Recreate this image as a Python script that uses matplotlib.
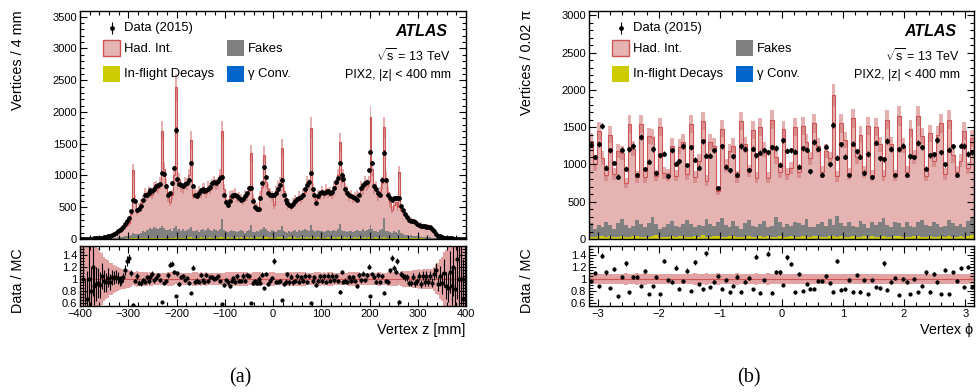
import numpy as np
import matplotlib
matplotlib.use("Agg")
import matplotlib.pyplot as plt
from matplotlib.patches import Rectangle
from matplotlib.ticker import MultipleLocator, FuncFormatter

plt.rcParams['font.family'] = ['Liberation Sans', 'DejaVu Sans']
plt.rcParams['mathtext.fontset'] = 'custom'
plt.rcParams['mathtext.rm'] = 'Liberation Sans'
plt.rcParams['mathtext.it'] = 'Liberation Sans:italic'

# ---------------- Vertex z, 4 mm bins from -400 to 400 mm ----------------
z_range = (-400, 400)
z_nbins = 200
z_data = [
    0, 1, 1, 2, 3, 4, 6, 8, 11, 14,
    18, 23, 29, 36, 45, 55, 68, 82, 100, 120,
    140, 165, 195, 230, 280, 330, 440, 620, 600, 450,
    470, 520, 610, 690, 700, 730, 770, 760, 790, 830,
    850, 860, 1040, 1020, 830, 700, 720, 880, 1115, 1715,
    950, 860, 850, 840, 860, 880, 930, 1200, 830, 690,
    680, 720, 770, 780, 760, 770, 790, 820, 880, 900,
    880, 920, 960, 980, 700, 590, 530, 600, 680, 700,
    690, 680, 640, 620, 630, 680, 720, 800, 810, 600,
    500, 470, 470, 640, 880, 1130, 980, 720, 700, 690,
    700, 720, 780, 850, 930, 700, 620, 560, 530, 520,
    550, 600, 630, 650, 660, 700, 780, 850, 900, 1040,
    780, 700, 560, 680, 720, 740, 730, 740, 760, 720,
    740, 800, 900, 960, 1200, 1000, 950, 780, 720, 700,
    680, 660, 640, 620, 700, 800, 850, 880, 900, 1085,
    1370, 1200, 830, 780, 720, 700, 930, 1360, 930, 700,
    640, 620, 640, 650, 650, 650, 520, 450, 400, 350,
    300, 290, 280, 260, 240, 220, 210, 200, 200, 195,
    190, 185, 160, 120, 80, 55, 40, 28, 22, 16,
    12, 10, 8, 6, 5, 4, 3, 2, 1, 1,
]
z_had_int = [
    1, 1, 2, 2, 2, 4, 3, 7, 8, 11,
    15, 16, 22, 29, 34, 45, 51, 62, 76, 93,
    118, 139, 154, 158, 167, 192, 341, 980, 540, 359,
    418, 458, 497, 606, 536, 625, 565, 544, 624, 653,
    642, 703, 1490, 931, 712, 519, 418, 571, 830, 2185,
    730, 778, 701, 649, 747, 730, 836, 1374, 568, 599,
    557, 648, 585, 639, 676, 580, 648, 654, 727, 749,
    716, 748, 835, 1390, 637, 479, 446, 548, 555, 567,
    589, 536, 538, 495, 467, 600, 556, 618, 1122, 529,
    417, 375, 358, 546, 669, 1144, 750, 656, 608, 545,
    417, 648, 675, 746, 1232, 639, 537, 418, 435, 386,
    458, 485, 487, 539, 516, 584, 588, 755, 737, 1531,
    666, 569, 497, 555, 558, 636, 589, 647, 575, 618,
    567, 675, 738, 846, 1290, 757, 869, 676, 648, 555,
    569, 527, 535, 558, 536, 689, 627, 774, 708, 736,
    1692, 947, 669, 696, 568, 605, 727, 1430, 828, 619,
    448, 360, 419, 471, 402, 910, 393, 354, 325, 271,
    267, 253, 218, 234, 210, 168, 193, 152, 177, 156,
    174, 151, 150, 93, 58, 51, 30, 24, 15, 15,
    11, 7, 7, 4, 5, 3, 3, 2, 1.5, 1,
]
z_fakes = [
    0, 0, 0, 1, 1, 1, 2, 2, 3, 3,
    4, 5, 6, 7, 8, 10, 12, 14, 16, 20,
    22, 25, 30, 35, 40, 45, 50, 90, 70, 60,
    70, 90, 110, 100, 130, 120, 160, 140, 170, 150,
    140, 160, 190, 150, 130, 120, 140, 110, 150, 180,
    120, 140, 100, 130, 110, 120, 140, 160, 110, 100,
    120, 90, 110, 130, 100, 120, 150, 110, 100, 130,
    120, 110, 140, 280, 120, 100, 90, 110, 120, 100,
    110, 90, 100, 120, 110, 80, 100, 120, 200, 90,
    80, 100, 90, 110, 130, 160, 120, 100, 90, 110,
    100, 90, 120, 110, 170, 100, 90, 80, 100, 90,
    100, 110, 90, 120, 100, 110, 130, 120, 100, 190,
    110, 90, 100, 120, 110, 100, 90, 110, 120, 100,
    110, 120, 100, 130, 200, 120, 110, 100, 90, 100,
    110, 90, 100, 120, 100, 110, 130, 100, 120, 140,
    200, 130, 110, 100, 90, 110, 130, 300, 110, 100,
    90, 80, 100, 90, 80, 120, 70, 60, 50, 55,
    40, 45, 40, 35, 30, 32, 28, 30, 25, 22,
    20, 18, 15, 12, 8, 6, 5, 4, 3, 2,
    2, 1, 1, 1, 1, 0, 0, 0, 0, 0,
]
z_decays = [
    0, 0, 0, 0, 0, 0, 0, 0, 1, 1,
    1, 1, 2, 2, 2, 3, 3, 4, 4, 5,
    5, 6, 6, 7, 8, 8, 9, 10, 10, 11,
    12, 12, 13, 14, 14, 15, 15, 16, 16, 17,
    18, 17, 20, 19, 18, 21, 22, 19, 20, 25,
    20, 22, 19, 21, 23, 20, 24, 26, 22, 21,
    23, 22, 25, 21, 24, 20, 22, 26, 23, 21,
    24, 22, 25, 30, 23, 21, 24, 22, 25, 23,
    21, 24, 22, 25, 23, 20, 24, 22, 28, 21,
    23, 25, 22, 24, 21, 26, 30, 24, 22, 25,
    23, 22, 25, 24, 28, 21, 23, 22, 25, 24,
    22, 25, 23, 21, 24, 26, 22, 25, 23, 29,
    24, 21, 23, 25, 22, 24, 21, 23, 25, 22,
    23, 25, 22, 24, 30, 23, 21, 24, 22, 25,
    21, 23, 25, 22, 24, 21, 23, 26, 22, 24,
    28, 23, 21, 24, 22, 25, 23, 30, 22, 21,
    22, 20, 21, 19, 18, 20, 17, 16, 15, 14,
    13, 12, 12, 11, 10, 10, 9, 8, 8, 7,
    6, 6, 5, 5, 4, 3, 3, 2, 2, 1,
    1, 1, 1, 0, 0, 0, 0, 0, 0, 0,
]
z_syst = 0.08

# ---------------- Vertex phi, 0.02*pi bins ----------------
phi_range = (-np.pi, np.pi)
phi_nbins = 100
phi_data = [
    1267, 1100, 1276, 1515, 955, 1190, 1018, 838, 1196, 945,
    1201, 1246, 855, 1371, 938, 1035, 1206, 884, 1125, 1144,
    851, 1188, 1012, 1042, 1248, 992, 1232, 1062, 956, 1311,
    1115, 1118, 1188, 683, 1243, 970, 920, 1113, 863, 1248,
    1207, 928, 1212, 1123, 1155, 1188, 1164, 1232, 1221, 999,
    1323, 1183, 1188, 1170, 972, 1216, 1196, 907, 1302, 1213,
    864, 1239, 1004, 1525, 1092, 1271, 1104, 861, 1280, 1177,
    1106, 891, 1140, 833, 1290, 1080, 1071, 1312, 1207, 859,
    1205, 1250, 855, 1110, 1100, 1287, 1228, 944, 1122, 1134,
    1330, 1163, 1001, 1200, 1243, 864, 1250, 1247, 1140, 1161,
]
phi_had_int = [
    1100, 865, 1260, 935, 630, 1215, 732, 968, 882, 560,
    1394, 1035, 578, 1340, 672, 1167, 1080, 645, 1360, 725,
    658, 1012, 681, 1085, 1098, 610, 1333, 664, 867, 1412,
    510, 1104, 1075, 420, 1199, 802, 1016, 1005, 650, 1443,
    1057, 652, 1290, 661, 1294, 958, 659, 1422, 810, 675,
    1303, 667, 782, 1269, 691, 1326, 1030, 914, 1395, 1043,
    678, 1002, 810, 1736, 530, 1334, 1151, 637, 1444, 939,
    1163, 705, 1370, 628, 1317, 1042, 562, 1409, 1111, 624,
    1440, 1083, 667, 1300, 945, 1425, 1121, 658, 1242, 820,
    1204, 1386, 689, 1341, 912, 727, 854, 1290, 706, 1068,
]
phi_fakes = [
    190, 110, 150, 120, 200, 140, 110, 180, 230, 160,
    120, 140, 210, 170, 130, 180, 250, 150, 110, 130,
    170, 200, 140, 120, 160, 230, 180, 130, 150, 120,
    240, 170, 140, 190, 250, 160, 130, 200, 150, 110,
    180, 220, 140, 130, 170, 210, 120, 150, 260, 190,
    140, 170, 130, 200, 180, 150, 240, 140, 120, 170,
    190, 150, 230, 160, 280, 170, 150, 200, 140, 130,
    210, 160, 120, 180, 150, 200, 250, 160, 130, 190,
    170, 140, 200, 150, 120, 180, 230, 160, 140, 200,
    170, 130, 150, 220, 180, 140, 160, 130, 200, 230,
]
phi_decays = [
    30, 25, 40, 35, 30, 45, 28, 32, 38, 30,
    26, 35, 42, 30, 28, 33, 40, 55, 30, 25,
    32, 38, 29, 35, 42, 30, 27, 36, 33, 48,
    30, 26, 35, 40, 31, 28, 34, 45, 30, 27,
    33, 38, 30, 29, 36, 32, 41, 28, 30, 35,
    27, 33, 38, 31, 29, 44, 30, 26, 35, 37,
    32, 28, 40, 34, 30, 46, 29, 33, 36, 31,
    27, 35, 30, 42, 33, 28, 38, 31, 29, 36,
    40, 27, 33, 30, 35, 45, 29, 32, 38, 30,
    26, 34, 31, 39, 28, 33, 36, 30, 44, 52,
]
phi_syst = 0.06

# ---------------- styling ----------------
C_HAD = '#e6b3b3'
C_HAD_LINE = '#cc5555'
C_BAND = '#d07070'
C_RATIO_BAND = '#e3a3a3'
C_FAKES = '#808080'
C_DECAYS = '#cccc00'
C_CONV = '#0066cc'

W, H = 977, 392
fig = plt.figure(figsize=(W / 100, H / 100), dpi=100)


def fbox(x0, y0, x1, y1):
    """Pixel box (left, top, right, bottom) -> figure fraction rect."""
    return [x0 / W, 1 - y1 / H, (x1 - x0) / W, (y1 - y0) / H]


def style_axis(ax, xmaj, xmin, ymaj, ymin):
    ax.xaxis.set_major_locator(MultipleLocator(xmaj))
    ax.xaxis.set_minor_locator(MultipleLocator(xmin))
    ax.yaxis.set_major_locator(MultipleLocator(ymaj))
    ax.yaxis.set_minor_locator(MultipleLocator(ymin))
    ax.tick_params(which='both', direction='in', top=True, right=True,
                   labelsize=8, width=0.8, pad=2)
    ax.tick_params(which='major', length=5)
    ax.tick_params(which='minor', length=2.6)
    for s in ax.spines.values():
        s.set_linewidth(1.0)


def draw_panel(x0, edges, data, had, fakes, decays, syst, xlim, ymax,
               xmaj, xmin, ylabel, xlabel, tag):
    x1 = x0 + 386 if x0 < 500 else 974
    axm = fig.add_axes(fbox(x0, 11, x1, 239))
    axr = fig.add_axes(fbox(x0, 246, x1, 306))

    data = np.asarray(data, float)
    had = np.asarray(had, float)
    fakes = np.asarray(fakes, float)
    decays = np.asarray(decays, float)
    total = had + fakes + decays
    safe = np.where(total > 0, total, 1.0)
    rel_unc = np.sqrt(syst ** 2 + 4.0 / safe)
    centers = 0.5 * (edges[1:] + edges[:-1])
    derr = np.sqrt(data)

    # stacked prediction
    axm.stairs(decays, edges, baseline=0, fill=True, color=C_DECAYS, lw=0)
    axm.stairs(decays + fakes, edges, baseline=decays, fill=True,
               color=C_FAKES, lw=0)
    axm.stairs(total, edges, baseline=decays + fakes, fill=True,
               color=C_HAD, lw=0)
    axm.stairs(total * (1 + rel_unc), edges, baseline=total * (1 - rel_unc),
               fill=True, color=C_BAND, alpha=0.55, lw=0)
    axm.stairs(total, edges, color=C_HAD_LINE, lw=0.8)
    axm.errorbar(centers, data, yerr=derr, fmt='o', color='black',
                 ms=2.4, elinewidth=0.8, capsize=0, zorder=5)
    axm.set_xlim(*xlim)
    axm.set_ylim(0, ymax)
    style_axis(axm, xmaj, xmin, 500, 100)
    axm.tick_params(labelbottom=False)

    # ratio
    ratio = np.where(total > 0, data / safe, 0)
    rerr = derr / safe
    axr.stairs(1 + rel_unc, edges, baseline=1 - rel_unc, fill=True,
               color=C_RATIO_BAND, lw=0)
    axr.axhline(1.0, color=C_HAD_LINE, lw=0.8)
    axr.errorbar(centers, ratio, yerr=rerr, fmt='o', color='black',
                 ms=2.0, elinewidth=0.8, capsize=0, zorder=5)
    axr.set_xlim(*xlim)
    axr.set_ylim(0.55, 1.55)
    style_axis(axr, xmaj, xmin, 0.2, 0.05)
    axr.yaxis.set_major_formatter(FuncFormatter(lambda v, p: f"{v:g}"))
    axr.set_yticks([0.6, 0.8, 1.0, 1.2, 1.4])

    # axis titles
    fig.text((x0 - 62) / W, 1 - 10 / H, ylabel, rotation=90, ha='center',
             va='top', fontsize=10.4)
    fig.text((x0 - 62) / W, 1 - 281 / H, 'Data / MC', rotation=90,
             ha='center', va='center', fontsize=10.4)
    fig.text((x1 - 1) / W, 1 - 330 / H, xlabel, ha='right', va='center',
             fontsize=10.4)
    fig.text((x0 + 160) / W, 1 - 378 / H, tag, ha='center', va='center',
             fontsize=14.5, family=['Liberation Serif', 'DejaVu Serif'])

    # legend and labels, positioned in pixels from the axes' top-left corner
    axh = 228.0
    axw = (x1 - x0)

    def ax_xy(px, py):
        return (px / axw, 1 - py / axh)

    tr = axm.transAxes
    mx, my = ax_xy(32, 17)
    axm.errorbar([mx], [my], yerr=[[6 / axh], [6 / axh]], fmt='o',
                 color='black', ms=2.4, elinewidth=0.8, capsize=0,
                 transform=tr, clip_on=False)
    legend_font = 9.4
    axm.text(*ax_xy(44, 17), 'Data (2015)', transform=tr, va='center',
             fontsize=legend_font)
    boxes = [
        (23, 29, 'Had. Int.', C_HAD, C_HAD_LINE),
        (23, 55, 'In-flight Decays', C_DECAYS, None),
        (147, 29, 'Fakes', C_FAKES, None),
        (147, 55, 'γ Conv.', C_CONV, None),
    ]
    for bx, by, label, fc, ec in boxes:
        lx, ly = ax_xy(bx, by + 16)
        rect = Rectangle((lx, ly), 17 / axw, 16 / axh, transform=tr,
                         facecolor=fc, edgecolor=ec if ec else fc,
                         lw=1.0 if ec else 0, clip_on=False)
        axm.add_patch(rect)
        axm.text(*ax_xy(bx + 21, by + 8.5), label, transform=tr,
                 va='center', fontsize=legend_font)
    axm.text(*ax_xy(367, 20), 'ATLAS', transform=tr, ha='right',
             va='center', fontsize=11.5, fontweight='bold', style='italic')
    axm.text(*ax_xy(371, 45), r'$\sqrt{\mathrm{s}}$ = 13 TeV', transform=tr,
             ha='right', va='center', fontsize=9)
    axm.text(*ax_xy(371, 64), 'PIX2, |z| < 400 mm', transform=tr,
             ha='right', va='center', fontsize=9)
    return axm, axr


z_edges = np.linspace(z_range[0], z_range[1], z_nbins + 1)
phi_edges = np.linspace(phi_range[0], phi_range[1], phi_nbins + 1)

draw_panel(80, z_edges, z_data, z_had_int, z_fakes, z_decays, z_syst,
           z_range, 3590, 100, 20, 'Vertices / 4 mm', 'Vertex z [mm]', '(a)')
draw_panel(589, phi_edges, phi_data, phi_had_int, phi_fakes, phi_decays,
           phi_syst, phi_range, 3058, 1, 0.2, 'Vertices / 0.02 π',
           'Vertex ϕ', '(b)')

fig.savefig('out.png', dpi=100)
